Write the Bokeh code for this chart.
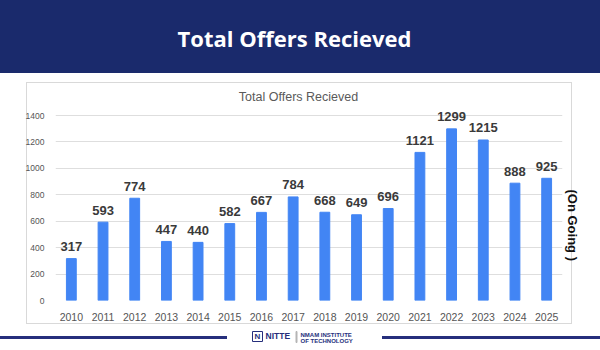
from bokeh.plotting import figure
from bokeh.layouts import column
from bokeh.models import Label, Title, FactorRange, Range1d, FixedTicker, ColumnDataSource
from bokeh.core.properties import value
from bokeh.embed import file_html
from bokeh.resources import INLINE

years = ["2010", "2011", "2012", "2013", "2014", "2015", "2016", "2017",
         "2018", "2019", "2020", "2021", "2022", "2023", "2024", "2025"]
offers = [317, 593, 774, 447, 440, 582, 667, 784, 668, 649, 696, 1121, 1299, 1215, 888, 925]
y_ticks = [0, 200, 400, 600, 800, 1000, 1200, 1400]
page_title = "Total Offers Recieved"
chart_title = "Total Offers Recieved"
note = "(On Going )"

NAVY = "#1a2a6c"
FOOT = "#262f7c"
BAR = "#4285f4"
BOXLINE = "#d9d9d9"

# plot frames in a column share the same left/right borders (canvas px 55..562)
FL, FR = 55, 562


def css_lines(specs, base="transparent"):
    """specs: list of (color, x, y, w, h) -> CSS background drawing of thin rectangles"""
    return {
        "background-color": base,
        "background-image": ", ".join(f"linear-gradient({c}, {c})" for c, *_ in specs),
        "background-size": ", ".join(f"{w}px {h}px" for _, x, y, w, h in specs),
        "background-position": ", ".join(f"{x}px {y}px" for _, x, y, w, h in specs),
        "background-repeat": "no-repeat",
    }


def blank(h, y0, y1, styles):
    f = figure(width=600, height=h, x_range=Range1d(FL, FR), y_range=Range1d(y1, y0),
               output_backend="svg", toolbar_location=None, min_border=0,
               x_axis_type=None, y_axis_type=None,
               background_fill_color=None, border_fill_color=None, styles=styles)
    f.grid.visible = False
    f.outline_line_color = None
    return f


# ---------- header (canvas y 0..73) ----------
head = blank(73, 0, 73, {"background-color": NAVY})
head.text(x=[294], y=[37], text=[page_title], text_align="center", text_baseline="middle",
          text_font=value("Open Sans"), text_font_style="bold", text_font_size="22px", text_color="white")

# ---------- chart (canvas y 73..324) ----------
src = ColumnDataSource(dict(x=years, top=offers, lab=[str(v) for v in offers]))
box_css = css_lines([(BOXLINE, 26, 9, 546, 1), (BOXLINE, 26, 250, 546, 1),
                     (BOXLINE, 26, 9, 1, 242), (BOXLINE, 571, 9, 1, 242)], base="white")
p = figure(width=600, height=251, x_range=FactorRange(*years), y_range=Range1d(0, 1650),
           output_backend="svg", toolbar_location=None,
           min_border_left=FL, min_border_right=600 - FR, min_border_top=9, min_border_bottom=24,
           background_fill_color=None, border_fill_color=None, styles=box_css)
p.outline_line_color = None

p.vbar(x="x", top="top", width=0.31, color=BAR, source=src)
p.text(x="x", y="top", text="lab", source=src, y_offset=-12, text_align="center", text_baseline="middle",
       text_font=value("Liberation Sans"), text_font_style="bold", text_font_size="13px", text_color="#3a3a3a")

p.xgrid.grid_line_color = None
p.ygrid.grid_line_color = "#dedede"
p.yaxis.ticker = FixedTicker(ticks=y_ticks)
for ax in (p.xaxis[0], p.yaxis[0]):
    ax.axis_line_color = None
    ax.major_tick_line_color = None
    ax.minor_tick_line_color = None
    ax.major_label_text_font = "Liberation Sans"
    ax.major_label_text_color = "#555555"
    ax.major_label_standoff = 5
p.yaxis.major_label_text_font_size = "8.5px"
p.xaxis.major_label_text_font_size = "10.5px"
p.xaxis.major_label_standoff = 6

p.add_layout(Label(x=243, y=204, x_units="screen", y_units="screen", text=chart_title,
                   text_font="Liberation Sans", text_font_size="12.5px", text_color="#5a5a5a",
                   text_align="center", text_baseline="middle"))

p.add_layout(Title(text=note, text_font="Liberation Sans", text_font_size="13px", text_font_style="bold",
                   text_color="#111111", align="left", offset=107, standoff=5), "right")

# ---------- footer (canvas y 324..350) ----------
foot_css = css_lines([(FOOT, 0, 12, 227, 3), (FOOT, 382, 12, 218, 3)], base="white")
foot = blank(26, 324, 350, foot_css)
foot.quad(left=[252], right=[262], top=[331], bottom=[341], fill_color="white", line_color=FOOT, line_width=1)
foot.text(x=[257], y=[336], text=["N"], text_align="center", text_baseline="middle",
          text_font=value("Liberation Sans"), text_font_style="bold", text_font_size="8px", text_color=FOOT)
foot.text(x=[265], y=[335.5], text=["NITTE"], text_align="left", text_baseline="middle",
          text_font=value("Liberation Sans"), text_font_style="bold", text_font_size="8.5px", text_color=FOOT)
foot.quad(left=[295.5], right=[296.5], top=[331], bottom=[342], color="#b5b5b5")
foot.text(x=[300, 300], y=[334, 340], text=["NMAM INSTITUTE", "OF TECHNOLOGY"], text_align="left",
          text_baseline="middle", text_font=value("Liberation Sans"), text_font_style="bold",
          text_font_size="6px", text_color=FOOT)

page = column(head, p, foot, spacing=0)
open("out.html", "w").write(file_html(page, INLINE))
